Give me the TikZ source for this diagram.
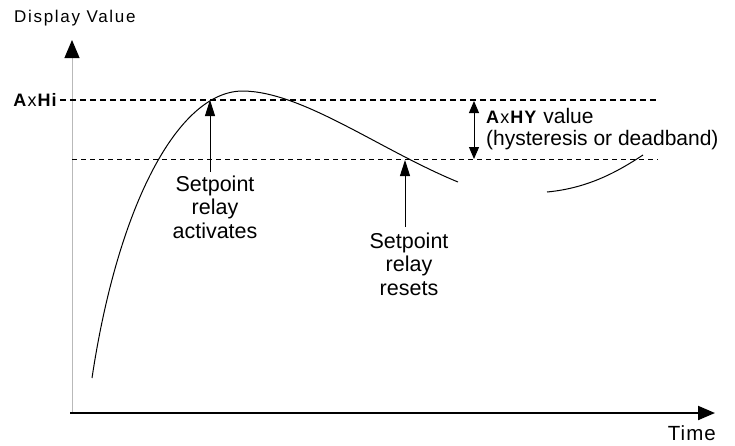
\documentclass[tikz,border=0pt]{standalone}
\usepackage{fontspec}
\setmainfont{Liberation Sans}
\usetikzlibrary{arrows.meta}
\begin{document}
\begin{tikzpicture}[x=1pt,y=-1pt,
  lbl/.style={font=\fontsize{21.5}{23.5}\selectfont, align=center, inner sep=0pt},
  sidelbl/.style={font=\fontsize{21}{22}\selectfont, align=left, inner sep=0pt},
  seg/.style={font=\fontsize{18}{20}\selectfont\addfontfeature{LetterSpace=6}, inner sep=0pt},
  ptr/.style={line width=1pt, -{Triangle[length=16pt,width=10pt]}},
  dbl/.style={line width=1pt, {Triangle[length=12pt,width=10pt]}-{Triangle[length=12pt,width=10pt]}},
  curve/.style={line width=1pt}
]
\useasboundingbox (0,0) rectangle (735,445);

% axes
\coordinate (o) at (72,413);
\coordinate (ytip) at (72,40);
\coordinate (xo) at (70,413);
\coordinate (xtip) at (715,413);
\draw[gray!55, line width=1pt, -{Triangle[length=18pt,width=15pt,color=black]}] (o) -- (ytip);
\draw[line width=2pt, -{Triangle[length=17pt,width=14pt]}] (xo) -- (xtip);

\node[font=\fontsize{17}{20}\selectfont\addfontfeature{LetterSpace=10}, anchor=base west, inner sep=0pt] (yl) at (14,22) {Display Value};
\node[font=\fontsize{20.5}{24}\selectfont\addfontfeature{LetterSpace=5}, anchor=base east, inner sep=0pt] (xl) at (716,440) {Time};

% setpoint lines
\node[seg, anchor=east] (hi) at (58,100) {\textbf{A}x\textbf{Hi}};
\coordinate (hiL) at (60,100);
\coordinate (hiR) at (657,100);
\draw[line width=1.6pt, dash pattern=on 6pt off 4pt] (hiL) -- (hiR);
\coordinate (loL) at (72,159);
\coordinate (loR) at (658,159);
\draw[line width=0.9pt, dash pattern=on 5pt off 4pt] (loL) -- (loR);

% curve
\coordinate (c0) at (92,378);
\coordinate (cpk) at (242,91);
\coordinate (c1) at (458,182);
\coordinate (c2) at (547,192);
\coordinate (c3) at (643,155);
\draw[curve] (c0) .. controls (118,205) and (178,92) .. (cpk)
                  .. controls (302,91) and (380,150) .. (c1);
\draw[curve] (c2) .. controls (590,188) and (620,170) .. (c3);

% activates
\node[lbl, anchor=north] (act) at (215,175.5) {Setpoint\\relay\\activates};
\coordinate (actT) at (210,100);
\coordinate (actB) at (210,172);
\draw[ptr] (actB) -- (actT);

% resets
\node[lbl, anchor=north] (res) at (409,232.5) {Setpoint\\relay\\resets};
\coordinate (resT) at (405,160);
\coordinate (resB) at (405,227);
\draw[ptr] (resB) -- (resT);

% hysteresis
\coordinate (hyT) at (474,101);
\coordinate (hyB) at (474,159);
\draw[dbl] (hyB) -- (hyT);
\node[sidelbl, anchor=north west] (hy) at (486,108.5) {{\fontsize{18}{20}\selectfont\addfontfeature{LetterSpace=6}\textbf{A}x\textbf{HY}} value\\(hysteresis or deadband)};
\end{tikzpicture}
\end{document}
